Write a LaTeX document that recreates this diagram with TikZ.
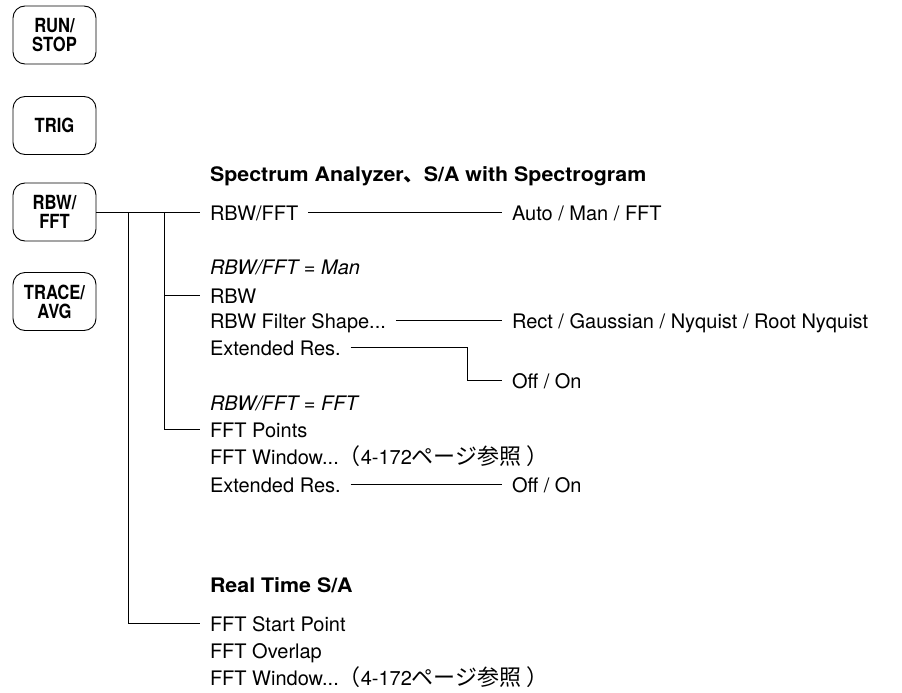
\documentclass[tikz,border=0pt]{standalone}
\usepackage{fontspec}
\setmainfont{TeX Gyre Heros}
\newfontfamily\jp{Noto Sans CJK JP}
\newfontfamily\headfont[FakeStretch=1.07]{TeX Gyre Heros}
\newfontfamily\btnfont[FakeStretch=0.85]{TeX Gyre Heros}
\newcommand{\jpx}[1]{{\jp\fontsize{22}{24}\selectfont #1}}
\begin{document}
\begin{tikzpicture}[x=1pt,y=-1pt,
  btn/.style={draw, rounded corners=12pt, minimum width=83pt, minimum height=58pt,
    align=center, inner sep=0pt, line width=0.9pt,
    font=\btnfont\bfseries\fontsize{19.5}{19}\selectfont},
  txt/.style={anchor=west, inner xsep=0pt, inner ysep=0pt, outer xsep=10pt,
    text height=16pt, text depth=0pt, font=\fontsize{20}{24}\selectfont},
  conn/.style={line width=0.9pt}]
\useasboundingbox (0,0) rectangle (902,693);

% buttons
\node[btn] (b1) at (54.5,35) {RUN/\\STOP};
\node[btn] (b2) at (54.5,125.5) {TRIG};
\node[btn] (b3) at (54.5,212) {RBW/\\FFT};
\node[btn] (b4) at (54.5,301.5) {TRACE/\\AVG};

% left column texts
\node[txt] (head) at (200,173) {\headfont\bfseries Spectrum Analyzer{\jp\bfseries 、}S/A with Spectrogram};
\node[txt] (rbwfft) at (200,212) {RBW/FFT};
\node[txt] (man) at (200,266) {\itshape RBW/FFT = Man};
\node[txt] (rbw) at (200,295) {RBW};
\node[txt] (filt) at (200,320) {RBW Filter Shape...};
\node[txt] (ext1) at (200,347) {Extended Res.};
\node[txt] (fftit) at (200,402) {\itshape RBW/FFT = FFT};
\node[txt] (fftpts) at (200,429) {FFT Points};
\node[txt] (fftwin) at (200,456) {FFT Window...\jpx{（}4-172\jpx{ページ参照}\hspace{5pt}\jpx{）}};
\node[txt] (ext2) at (200,484) {Extended Res.};
\node[txt] (rt) at (200,584) {\headfont\bfseries Real Time S/A};
\node[txt] (start) at (200,623) {FFT Start Point};
\node[txt] (overlap) at (200,650) {FFT Overlap};
\node[txt] (fftwin2) at (200,677) {FFT Window...\jpx{（}4-172\jpx{ページ参照}\hspace{5pt}\jpx{）}};

% right column texts
\node[txt] (auto) at (502,212) {Auto / Man / FFT};
\node[txt] (rect) at (502,320) {Rect / Gaussian / Nyquist / Root Nyquist};
\node[txt] (off1) at (502,380) {Off / On};
\node[txt] (off2) at (502,484) {Off / On};

% tree connectors
\coordinate (v1) at (128,212);
\coordinate (v2) at (164,212);
\coordinate (c1) at (467,380);
\draw[conn] (b3.east) -- (rbwfft.west);
\draw[conn] (v1) |- (start.west);
\draw[conn] (v2) |- (fftpts.west);
\draw[conn] (v2 |- rbw.west) -- (rbw.west);

\draw[conn] (rbwfft.east) -- (auto.west);
\draw[conn] (filt.east) -- (rect.west);
\draw[conn] (ext1.east) -| (c1) |- (off1.west);
\draw[conn] (ext2.east) -- (off2.west);
\end{tikzpicture}
\end{document}
